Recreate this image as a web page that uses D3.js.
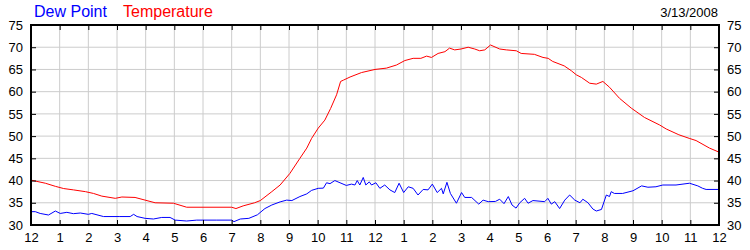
<!DOCTYPE html>
<html>
<head>
  <meta charset="utf-8">
  <title>Dew Point / Temperature</title>
  <style>
    body { margin: 0; background: #fff; }
    text { font-family: "Liberation Sans", Arial, sans-serif; }
  </style>
</head>
<body>
  <div class="container"></div>

  <script src="https://d3js.org/d3.v7.min.js"></script>
  <script>
  // hour labels along the bottom (12am .. 12am)
  var hourLabels = ["12","1","2","3","4","5","6","7","8","9","10","11","12","1","2","3","4","5","6","7","8","9","10","11","12"];
  var yTicks = [30, 35, 40, 45, 50, 55, 60, 65, 70, 75];

  // temperature (hours since midnight, deg F)
  var tempHours = [0, 0.5, 0.85, 1.14, 1.48, 1.9, 2.18, 2.47, 2.94, 3.17, 3.63, 3.98, 4.33, 4.97, 5.43, 6.0, 7.0, 7.15, 7.4, 7.8,
                   8.0, 8.4, 8.69, 9.03, 9.38, 9.62, 9.79, 10.02, 10.25, 10.45, 10.66, 10.8, 10.9, 11.13, 11.53, 12.0, 12.4, 12.75, 13.04, 13.33,
                   13.6, 13.8, 13.97, 14.2, 14.44, 14.6, 14.78, 15.0, 15.25, 15.48, 15.65, 15.83, 16.03, 16.35, 16.58, 16.93, 17.1, 17.56, 17.86, 18.04,
                   18.2, 18.6, 18.85, 19.02, 19.2, 19.49, 19.72, 19.95, 20.18, 20.53, 20.94, 21.4, 21.93, 22.16, 22.6, 22.96, 23.2, 23.67, 24];
  var tempValues = [40.1, 39.4, 38.7, 38.2, 37.9, 37.5, 37.1, 36.5, 36.0, 36.3, 36.2, 35.6, 35.0, 34.9, 34.0, 34.0, 34.0, 33.7, 34.3, 35.0,
                    35.5, 37.5, 39.0, 41.6, 45.0, 47.3, 49.5, 51.8, 53.6, 56.2, 59.3, 62.3, 62.6, 63.3, 64.3, 65.0, 65.3, 66.0, 67.0, 67.5,
                    67.5, 68.0, 67.7, 68.6, 69.0, 69.8, 69.4, 69.6, 70.0, 69.6, 69.2, 69.4, 70.5, 69.6, 69.4, 69.2, 68.6, 68.4, 67.7, 67.5,
                    66.8, 65.8, 64.7, 63.8, 63.2, 61.9, 61.7, 62.3, 61.0, 58.5, 56.3, 54.2, 52.5, 51.6, 50.3, 49.5, 49.0, 47.3, 46.4];

  // dew point
  var dewHours = [0, 0.15, 0.32, 0.61, 0.85, 1.02, 1.25, 1.48, 1.72, 2.0, 2.12, 2.53, 3.1, 3.46, 3.58, 3.7, 3.98, 4.27, 4.56, 4.85,
                  5.03, 5.43, 5.78, 6.48, 7.0, 7.08, 7.3, 7.6, 7.9, 8.16, 8.4, 8.69, 8.92, 9.1, 9.38, 9.62, 9.79, 10.02, 10.2, 10.31,
                  10.43, 10.6, 10.78, 11.0, 11.18, 11.3, 11.38, 11.47, 11.59, 11.68, 11.8, 11.88, 12.03, 12.17, 12.34, 12.52, 12.69, 12.84, 13.0, 13.16,
                  13.33, 13.5, 13.68, 13.85, 14.0, 14.17, 14.32, 14.38, 14.51, 14.63, 14.84, 15.02, 15.13, 15.37, 15.62, 15.77, 15.95, 16.2, 16.35, 16.5,
                  16.65, 16.78, 16.92, 17.05, 17.22, 17.34, 17.51, 17.92, 18.03, 18.15, 18.27, 18.44, 18.62, 18.79, 18.97, 19.15, 19.25, 19.43, 19.6, 19.72,
                  19.9, 20.07, 20.18, 20.24, 20.35, 20.64, 21.0, 21.3, 21.52, 21.8, 22.04, 22.5, 22.97, 23.26, 23.43, 23.55, 24];
  var dewValues = [33.0, 33.0, 32.6, 32.25, 33.15, 32.6, 32.85, 32.55, 32.7, 32.4, 32.6, 31.9, 31.9, 31.9, 32.4, 31.9, 31.5, 31.35, 31.7, 31.7,
                   31.1, 30.9, 31.1, 31.1, 31.1, 30.75, 31.35, 31.5, 32.3, 33.7, 34.5, 35.2, 35.6, 35.5, 36.4, 37.0, 37.8, 38.25, 38.3, 39.5,
                   39.3, 40.0, 39.5, 38.9, 39.2, 39.0, 40.0, 39.0, 40.7, 39.0, 39.7, 39.0, 39.5, 38.25, 39.0, 37.9, 37.3, 39.4, 37.3, 38.6,
                   38.25, 36.75, 38.0, 37.9, 39.2, 37.3, 38.25, 37.0, 39.6, 37.1, 34.9, 37.3, 36.2, 36.2, 34.7, 35.6, 35.25, 35.3, 35.8, 34.8,
                   36.4, 34.5, 33.8, 35.0, 36.0, 34.9, 35.5, 35.25, 36.0, 34.7, 35.25, 33.7, 35.6, 36.75, 35.6, 35.0, 35.8, 35.0, 33.6, 33.15,
                   33.5, 36.75, 36.4, 37.5, 37.1, 37.1, 37.7, 38.8, 38.5, 38.6, 39.0, 39.0, 39.4, 38.8, 38.25, 38.0, 38.0];

  var margin = {top: 25, right: 31, bottom: 25, left: 31},
      width  = 750 - margin.left - margin.right,
      height = 250 - margin.top - margin.bottom;

  var svg = d3.select(".container")
      .append("svg")
      .attr("width", 750)
      .attr("height", 250);

  var g = svg.append("g")
      .attr("transform", "translate(" + margin.left + "," + margin.top + ")");

  var xScale = d3.scaleLinear().domain([0, 24]).range([0, width]);
  var yScale = d3.scaleLinear().domain([30, 75]).range([height, 0]);
  var hourTicks = d3.range(0, 25);

  // grid
  g.selectAll(".vgrid")
      .data(hourTicks.slice(1, 24))
      .enter().append("line")
      .attr("x1", function(d){ return xScale(d); })
      .attr("x2", function(d){ return xScale(d); })
      .attr("y1", 0).attr("y2", height)
      .attr("stroke", "#cccccc");

  g.selectAll(".hgrid")
      .data(yTicks.slice(1, yTicks.length - 1))
      .enter().append("line")
      .attr("x1", 0).attr("x2", width)
      .attr("y1", function(d){ return yScale(d); })
      .attr("y2", function(d){ return yScale(d); })
      .attr("stroke", "#cccccc");

  // series
  var line = d3.line()
      .x(function(d){ return xScale(d[0]); })
      .y(function(d){ return yScale(d[1]); });

  g.append("path")
      .datum(d3.zip(dewHours, dewValues))
      .attr("fill", "none")
      .attr("stroke", "#0000ff")
      .attr("stroke-width", 1)
      .attr("d", line);

  g.append("path")
      .datum(d3.zip(tempHours, tempValues))
      .attr("fill", "none")
      .attr("stroke", "#ff0000")
      .attr("stroke-width", 1)
      .attr("d", line);

  // axes, ticks pointing inward
  function styleAxis(sel) {
    sel.select(".domain").remove();
    sel.selectAll("line").attr("stroke", "#000");
    sel.selectAll("text").attr("fill", "#000").attr("font-size", 13)
       .attr("font-family", "'Liberation Sans', Arial, sans-serif");
  }

  g.append("g")
      .attr("transform", "translate(0," + height + ")")
      .call(d3.axisBottom(xScale).tickValues(hourTicks)
        .tickFormat(function(d){ return hourLabels[d]; })
        .tickSizeInner(-5).tickSizeOuter(0).tickPadding(8))
      .call(styleAxis);

  g.append("g")
      .call(d3.axisTop(xScale).tickValues(hourTicks).tickFormat("")
        .tickSizeInner(-5).tickSizeOuter(0))
      .call(styleAxis);

  g.append("g")
      .call(d3.axisLeft(yScale).tickValues(yTicks)
        .tickSizeInner(-5).tickSizeOuter(0).tickPadding(8))
      .call(styleAxis);

  g.append("g")
      .attr("transform", "translate(" + width + ",0)")
      .call(d3.axisRight(yScale).tickValues(yTicks)
        .tickSizeInner(-5).tickSizeOuter(0).tickPadding(8))
      .call(styleAxis);

  // frame
  g.append("rect")
      .attr("x", 0).attr("y", 0)
      .attr("width", width).attr("height", height)
      .attr("fill", "none")
      .attr("stroke", "#000")
      .attr("stroke-width", 2);

  // legend + date
  svg.append("text")
      .attr("x", 34).attr("y", 17)
      .attr("font-size", 16)
      .attr("fill", "#0000ff")
      .text("Dew Point");

  svg.append("text")
      .attr("x", 123).attr("y", 17)
      .attr("font-size", 16)
      .attr("fill", "#ff0000")
      .text("Temperature");

  svg.append("text")
      .attr("x", 718).attr("y", 17)
      .attr("text-anchor", "end")
      .attr("font-size", 13)
      .attr("fill", "#000")
      .text("3/13/2008");
  </script>
</body>
</html>
